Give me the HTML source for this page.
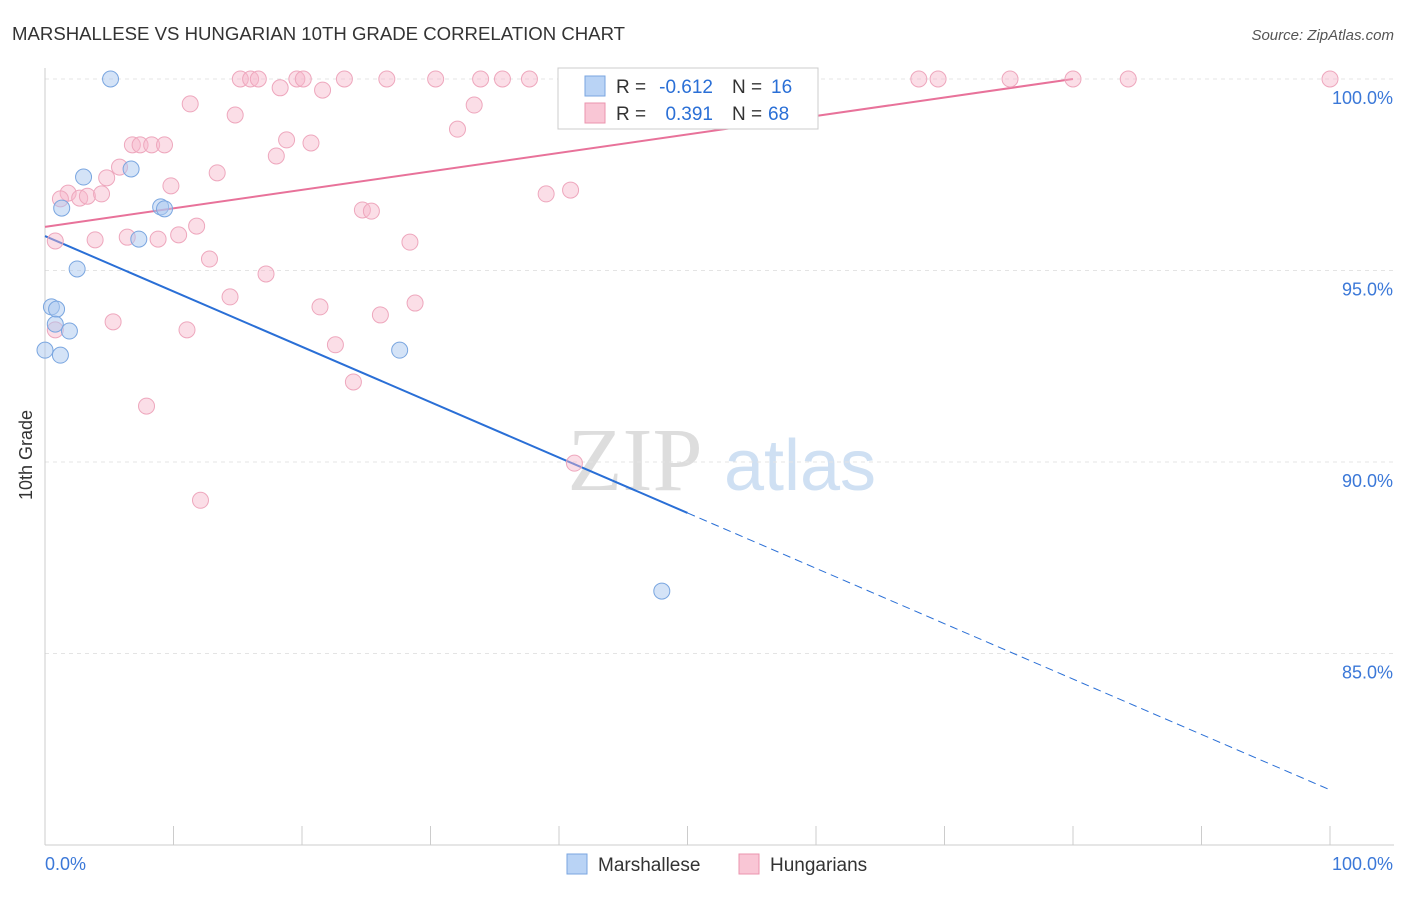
<!DOCTYPE html>
<html><head><meta charset="utf-8"><style>
body{margin:0;background:#fff;font-family:"Liberation Sans",sans-serif}
</style></head><body>
<svg width="1406" height="892" xmlns="http://www.w3.org/2000/svg" id="svg">
<text x="12" y="40" font-size="18.6" fill="#333">MARSHALLESE VS HUNGARIAN 10TH GRADE CORRELATION CHART</text>
<text x="1394" y="40" font-size="15" fill="#555" text-anchor="end" font-style="italic">Source: ZipAtlas.com</text>
<text x="32" y="455" font-size="18" fill="#333" text-anchor="middle" transform="rotate(-90 32 455)">10th Grade</text>
<g><text x="635" y="490" font-size="90" fill="#ddd" font-family="Liberation Serif" text-anchor="middle">ZIP</text><text x="800" y="490" font-size="72" fill="#cfe0f3" text-anchor="middle">atlas</text></g>
<g id="grid"></g><g id="axes"></g><g id="lines"></g><g id="pts"></g>
<g>
<rect x="558" y="68" width="260" height="61" fill="#fff" stroke="#ccc"/>
<rect x="585" y="76" width="20" height="20" fill="#b9d3f5" stroke="#7aa6e0"/>
<text x="616" y="93" font-size="19" fill="#333">R =</text>
<text x="713" y="93" font-size="19" fill="#2a6fd6" text-anchor="end">-0.612</text>
<text x="732" y="93" font-size="19" fill="#333">N =</text>
<text x="771" y="93" font-size="19" fill="#2a6fd6">16</text>
<rect x="585" y="103" width="20" height="20" fill="#f9c6d5" stroke="#eb94ae"/>
<text x="616" y="120" font-size="19" fill="#333">R =</text>
<text x="713" y="120" font-size="19" fill="#2a6fd6" text-anchor="end">0.391</text>
<text x="732" y="120" font-size="19" fill="#333">N =</text>
<text x="768" y="120" font-size="19" fill="#2a6fd6">68</text>
</g>
<g>
<rect x="567" y="854" width="20" height="20" fill="#b9d3f5" stroke="#7aa6e0"/><text x="598" y="871" font-size="19" fill="#333">Marshallese</text>
<rect x="739" y="854" width="20" height="20" fill="#f9c6d5" stroke="#eb94ae"/><text x="770" y="871" font-size="19" fill="#333">Hungarians</text>
</g>
</svg>
<script>
const yTicks=[100,95,90,85];
const yTickLabels=["100.0%","95.0%","90.0%","85.0%"];
const blueX=[5.1,3.0,6.7,1.3,9.0,9.3,7.3,2.5,0.5,0.9,0.8,1.9,0,1.2,27.6,48.0];
const blueY=[100,97.44,97.65,96.63,96.66,96.61,95.82,95.04,94.05,93.99,93.6,93.42,92.92,92.79,92.92,86.63];
const pinkX=[15.2,16,16.6,19.6,20.1,23.3,26.6,30.4,33.9,35.6,37.7,53.9,68,69.5,75.1,80,84.3,100,18.3,21.6,11.3,33.4,14.8,32.1,18.8,20.7,6.8,7.4,8.3,9.3,18,5.8,13.4,4.8,9.8,40.9,39,1.8,1.2,2.7,3.3,4.4,24.7,25.4,11.8,6.4,8.8,10.4,3.9,28.4,0.8,12.8,17.2,14.4,28.8,21.4,26.1,5.3,11.05,0.8,22.6,24,7.9,41.2,12.1];
const pinkY=[100,100,100,100,100,100,100,100,100,100,100,100,100,100,100,100,100,100,99.77,99.71,99.35,99.32,99.06,98.69,98.41,98.33,98.28,98.28,98.28,98.28,97.99,97.70,97.55,97.42,97.21,97.10,97.0,97.02,96.87,96.89,96.94,97.0,96.58,96.55,96.16,95.87,95.82,95.93,95.8,95.74,95.77,95.3,94.91,94.31,94.15,94.05,93.84,93.66,93.45,93.45,93.06,92.09,91.46,89.97,89.0];
const blueLine=[95.9,81.44], pinkLine=[96.14,100,80];
const X=v=>45+v*12.85, Y=v=>79+(100-v)*38.3;
const NS="http://www.w3.org/2000/svg";
function mk(p,t,a){const e=document.createElementNS(NS,t);for(const k in a)e.setAttribute(k,a[k]);document.getElementById(p).appendChild(e);return e;}
yTicks.forEach((t,i)=>{
 const g=mk('grid','line',{x1:45,x2:1394,y1:Y(t),y2:Y(t),stroke:'#e4e4e4','stroke-dasharray':'4,4'});
 
 
 const l=mk('axes','text',{x:1393,y:Y(t)+25,'font-size':18,fill:'#3b78d8','text-anchor':'end'});l.textContent=yTickLabels[i];
 
 
});
mk('axes','line',{x1:45,x2:45,y1:68,y2:845,stroke:'#ccc'});
mk('axes','line',{x1:45,x2:1394,y1:845,y2:845,stroke:'#ccc'});
for(let i=0;i<=10;i++){const t=mk('axes','line',{x1:X(i*10),x2:X(i*10),y1:826,y2:845,stroke:'#ccc'});
 
 }
let a=mk('axes','text',{x:45,y:870,'font-size':18,fill:'#3b78d8'});a.textContent='0.0%';


a=mk('axes','text',{x:1393,y:870,'font-size':18,fill:'#3b78d8','text-anchor':'end'});a.textContent='100.0%';


pinkX.forEach((x,i)=>{const c=mk('pts','circle',{cx:X(x),cy:Y(pinkY[i]),r:8,fill:'rgba(247,182,202,0.45)',stroke:'#eea7bd'});
 
 });
blueX.forEach((x,i)=>{const c=mk('pts','circle',{cx:X(x),cy:Y(blueY[i]),r:8,fill:'rgba(170,200,240,0.5)',stroke:'#7aa6e0'});
 
 });
const by=x=>blueLine[0]+(blueLine[1]-blueLine[0])*x/100;
let l=mk('lines','line',{x1:X(0),y1:Y(by(0)),x2:X(50),y2:Y(by(50)),stroke:'#2a6fd6','stroke-width':2});


l=mk('lines','line',{x1:X(50),y1:Y(by(50)),x2:X(100),y2:Y(by(100)),stroke:'#2a6fd6','stroke-width':1,'stroke-dasharray':'8,5'});


l=mk('lines','line',{x1:X(0),y1:Y(pinkLine[0]),x2:X(pinkLine[2]),y2:Y(pinkLine[1]),stroke:'#e8729a','stroke-width':2});


</script>
</body></html>
